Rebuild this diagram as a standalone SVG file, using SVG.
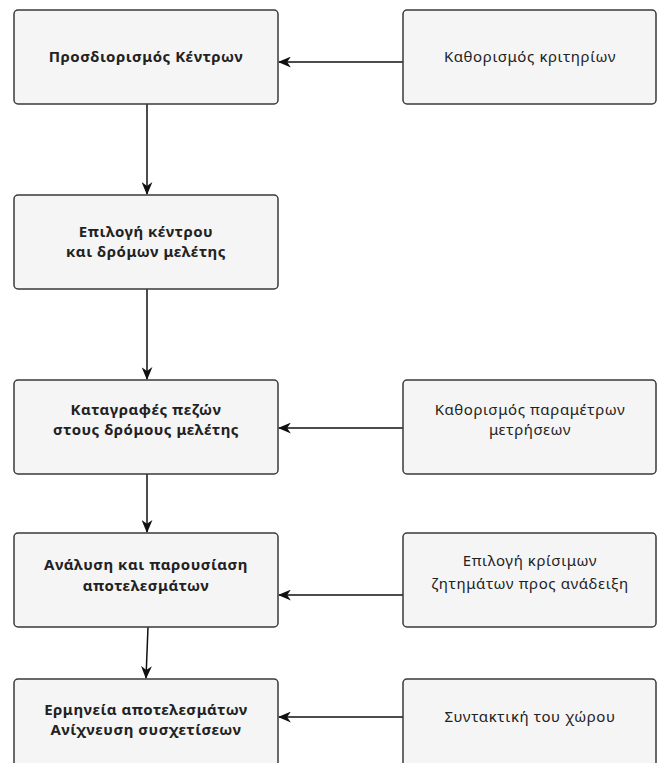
<svg xmlns="http://www.w3.org/2000/svg" width="657" height="763" viewBox="0 0 657 763">
<style>
.box{fill:#f5f5f5;stroke:#3a3a3a;stroke-width:1.5}
.t{font-family:"Noto Sans","DejaVu Sans",sans-serif;font-size:15px;fill:#222;text-anchor:middle;letter-spacing:0.6px}
.b{font-weight:bold;letter-spacing:0.5px}
.c{fill:none;stroke:#111;stroke-width:1.5}
</style>
<defs>
<marker id="ah" viewBox="0 0 12 10" refX="11" refY="5" markerWidth="13" markerHeight="11" markerUnits="userSpaceOnUse" orient="auto">
<path d="M0,0 L12,5 L0,10 L3.5,5 Z" fill="#111"/>
</marker>
</defs>
<rect width="657" height="763" fill="#fff"/>
<g id="connectors">
<path class="c" d="M403,62 L279,62" marker-end="url(#ah)"/>
<path class="c" d="M147,104 L147,194" marker-end="url(#ah)"/>
<path class="c" d="M147,289 L147,379" marker-end="url(#ah)"/>
<path class="c" d="M403,428 L279,428" marker-end="url(#ah)"/>
<path class="c" d="M147,474 L147,532" marker-end="url(#ah)"/>
<path class="c" d="M403,595 L279,595" marker-end="url(#ah)"/>
<path class="c" d="M148,627 L146,678" marker-end="url(#ah)"/>
<path class="c" d="M403,717 L279,717" marker-end="url(#ah)"/>
</g>
<g id="n1"><rect class="box" x="14" y="10" width="264" height="94" rx="4"/><text class="t b" x="146" y="62">Προσδιορισμός Κέντρων</text></g>
<g id="r1"><rect class="box" x="403" y="10" width="253" height="94" rx="4"/><text class="t" x="530" y="62">Καθορισμός κριτηρίων</text></g>
<g id="n2"><rect class="box" x="14" y="195" width="264" height="94" rx="4"/><text class="t b" x="146" y="237">Επιλογή κέντρου</text><text class="t b" x="146" y="257">και δρόμων μελέτης</text></g>
<g id="n3"><rect class="box" x="14" y="380" width="264" height="94" rx="4"/><text class="t b" x="146" y="415">Καταγραφές πεζών</text><text class="t b" x="146" y="435">στους δρόμους μελέτης</text></g>
<g id="r3"><rect class="box" x="403" y="380" width="253" height="94" rx="4"/><text class="t" x="530" y="415">Καθορισμός παραμέτρων</text><text class="t" x="530" y="435">μετρήσεων</text></g>
<g id="n4"><rect class="box" x="14" y="533" width="264" height="94" rx="4"/><text class="t b" x="146" y="570">Ανάλυση και παρουσίαση</text><text class="t b" x="146" y="591">αποτελεσμάτων</text></g>
<g id="r4"><rect class="box" x="403" y="533" width="253" height="94" rx="4"/><text class="t" x="530" y="566">Επιλογή κρίσιμων</text><text class="t" x="530" y="589">ζητημάτων προς ανάδειξη</text></g>
<g id="n5"><rect class="box" x="14" y="679" width="264" height="94" rx="4"/><text class="t b" x="146" y="715">Ερμηνεία αποτελεσμάτων</text><text class="t b" x="146" y="735">Ανίχνευση συσχετίσεων</text></g>
<g id="r5"><rect class="box" x="403" y="679" width="253" height="94" rx="4"/><text class="t" x="530" y="722">Συντακτική του χώρου</text></g>
</svg>
